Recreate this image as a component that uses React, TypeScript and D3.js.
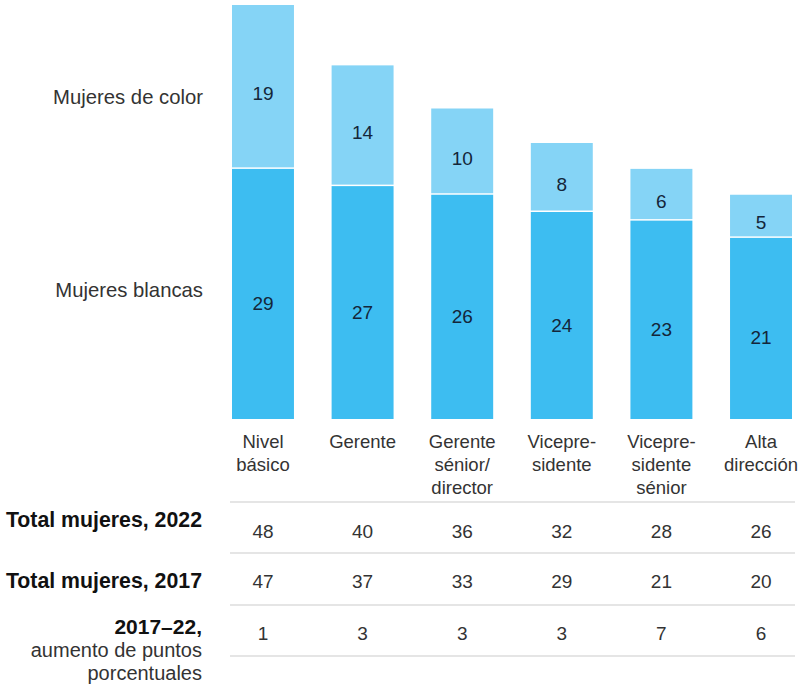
import React from "react";
import * as d3 from "d3";

const categories: string[][] = [
  ["Nivel", "básico"],
  ["Gerente"],
  ["Gerente", "sénior/", "director"],
  ["Vicepre-", "sidente"],
  ["Vicepre-", "sidente", "sénior"],
  ["Alta", "dirección"],
];
const whiteWomen = [29, 27, 26, 24, 23, 21];
const womenOfColor = [19, 14, 10, 8, 6, 5];
const total2022 = [48, 40, 36, 32, 28, 26];
const total2017 = [47, 37, 33, 29, 21, 20];
const increase = [1, 3, 3, 3, 7, 6];

const W = 801;
const H = 685;
const DARK = "#3dbdf1";
const LIGHT = "#85d4f6";
const FONT = "'Liberation Sans', Arial, sans-serif";

export default function App() {
  const idx = categories.map((_, i) => i);
  const x = d3.scaleBand<number>().domain(idx).range([232, 792]).paddingInner(0.378).paddingOuter(0);
  const y = d3.scaleLinear().domain([0, 48]).range([419, 5]);
  const bw = x.bandwidth();

  const rows = [
    { vals: total2022, base: 538, line: 553 },
    { vals: total2017, base: 588, line: 605 },
    { vals: increase, base: 640, line: 656 },
  ];

  return (
    <svg width={W} height={H} style={{ position: "absolute", left: 0, top: 0, background: "#fff" }} fontFamily={FONT}>
      {idx.map((i) => {
        const x0 = x(i)!;
        const w = whiteWomen[i];
        const c = womenOfColor[i];
        return (
          <g key={i}>
            <rect x={x0} y={y(w)} width={bw} height={y(0) - y(w)} fill={DARK} />
            <rect x={x0} y={y(w + c)} width={bw} height={y(w) - y(w + c) - 1.5} fill={LIGHT} />
            <text x={x0 + bw / 2} y={(y(0) + y(w)) / 2 + 16} textAnchor="middle" fontSize={19} fill="#14263a">{w}</text>
            <text x={x0 + bw / 2} y={(y(w) + y(w + c)) / 2 + 13} textAnchor="middle" fontSize={19} fill="#14263a">{c}</text>
            {categories[i].map((ln, k) => (
              <text key={k} x={x0 + bw / 2} y={448 + k * 23} textAnchor="middle" fontSize={18.5} fill="#333">{ln}</text>
            ))}
          </g>
        );
      })}
      <text x={203} y={104} textAnchor="end" fontSize={20.3} fill="#333">Mujeres de color</text>
      <text x={203} y={297} textAnchor="end" fontSize={20.3} fill="#333">Mujeres blancas</text>

      <line x1={230} x2={795} y1={502} y2={502} stroke="#dcdcdc" strokeWidth={1.5} />
      {rows.map((r, ri) => (
        <g key={ri}>
          {idx.map((i) => (
            <text key={i} x={x(i)! + bw / 2} y={r.base} textAnchor="middle" fontSize={19} fill="#333">{r.vals[i]}</text>
          ))}
          <line x1={230} x2={795} y1={r.line} y2={r.line} stroke="#dcdcdc" strokeWidth={1.5} />
        </g>
      ))}
      <text x={202} y={527} textAnchor="end" fontSize={21.3} fontWeight="bold" fill="#111">Total mujeres, 2022</text>
      <text x={202} y={588} textAnchor="end" fontSize={21.3} fontWeight="bold" fill="#111">Total mujeres, 2017</text>
      <text x={202} y={634} textAnchor="end" fontSize={21} fontWeight="bold" fill="#111">2017–22,</text>
      <text x={202} y={657} textAnchor="end" fontSize={20} fill="#333">aumento de puntos</text>
      <text x={202} y={680} textAnchor="end" fontSize={20} fill="#333">porcentuales</text>
    </svg>
  );
}
